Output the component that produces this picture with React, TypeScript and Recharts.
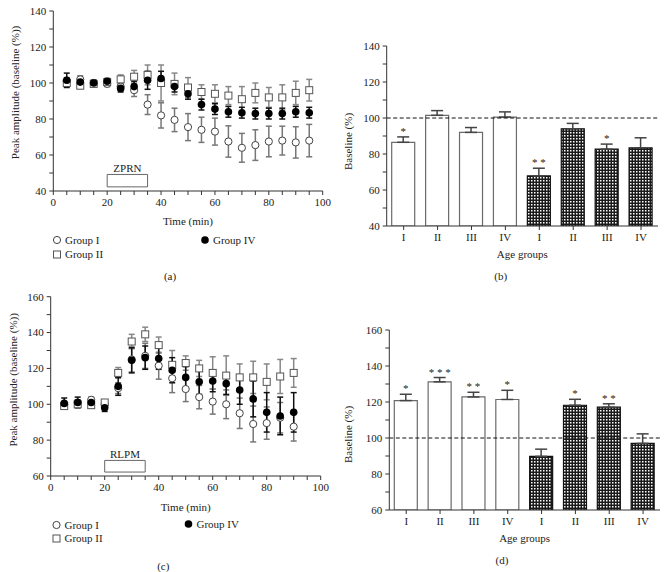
import React from "react";
import {
  Bar,
  BarChart,
  Cell,
  ErrorBar,
  LabelList,
  ReferenceArea,
  ReferenceLine,
  Scatter,
  ScatterChart,
  XAxis,
  YAxis,
} from "recharts";

const FONT = '"Liberation Serif", "Times New Roman", serif';
const INK = "#222";
const AXIS = "#333";

// ---- (a) ZPRN time course ----
const timesA = [5, 10, 15, 20, 25, 30, 35, 40, 45, 50, 55, 60, 65, 70, 75, 80, 85, 90, 95];
const groupIA = [101, 102, 100, 99.5, 98, 96, 88, 82, 79.5, 75.5, 74, 73, 67.5, 64, 65.5, 67.5, 68, 67, 68];
const groupIErrA = [2, 2, 1.5, 1.5, 2, 3.5, 5.5, 7, 6.5, 7.5, 7, 7.5, 8.7, 8, 8.5, 8.5, 8, 8.7, 9];
const groupIIA = [100, 98.5, 99.5, 100.5, 102, 103.5, 104.5, 100, 99.5, 97.5, 95, 94, 93, 91, 94.5, 92, 92, 94.5, 96];
const groupIIErrA = [1.5, 1.5, 1.5, 1.5, 2.5, 3.5, 5.5, 10, 6, 5.5, 4, 5, 5, 7, 5.5, 5.5, 7, 6.5, 6];
const groupIVA = [101.5, 100.5, 100, 101, 97, 98, 101.5, 102.5, 98, 94, 88, 85.5, 84, 83.5, 83, 83, 83, 84, 83.5];
const groupIVErrA = [4, 2, 1.5, 1.5, 2, 3, 5, 4, 3, 3, 3, 3, 3, 3, 3, 3, 3, 3, 3];

// ---- (c) RLPM time course ----
const timesC = [5, 10, 15, 20, 25, 30, 35, 40, 45, 50, 55, 60, 65, 70, 75, 80, 85, 90];
const groupIC = [100, 101, 102.5, 100, 109, 125, 127, 121.5, 114.5, 108.5, 104, 101.5, 100, 95, 89, 89.5, 92.5, 87.5];
const groupIErrC = [1.5, 1.5, 1.5, 1.5, 3, 7, 7, 7.5, 8, 7, 6.5, 7, 8, 8.5, 10, 9, 8.5, 8];
const groupIIC = [99, 100, 99.5, 101, 117.5, 135, 139, 133, 122, 123, 120, 117.5, 116, 115, 115, 112.5, 115.5, 117.5];
const groupIIErrC = [1.5, 1.5, 1.5, 1.5, 3, 4, 4, 4.5, 8, 4, 4.5, 9, 11, 7.5, 9, 10, 9.5, 8];
const groupIVC = [100.5, 101, 101, 98, 110, 124.5, 126, 125.5, 119, 115, 112.5, 113, 111.5, 108, 103, 95.5, 93.5, 95.5];
const groupIVErrC = [3, 3, 2, 2, 5, 7, 6.5, 6, 7, 6, 7, 6, 6, 8, 10, 11, 10.5, 11];

// ---- (b), (d) bar summaries ----
const ageGroups = ["I", "II", "III", "IV"];
const openBarsB = [86.5, 101.5, 92, 100.5];
const openErrB = [3, 2.6, 2.7, 2.9];
const hatchBarsB = [67.8, 94, 82.7, 83.4];
const hatchErrB = [4.3, 3, 2.8, 5.6];
const starsB = ["*", "", "", "", "**", "", "*", ""];

const openBarsD = [120.8, 131.2, 122.8, 121.4];
const openErrD = [3.5, 2.4, 2.6, 5.1];
const hatchBarsD = [89.8, 118.2, 117.1, 97];
const hatchErrD = [4, 3.3, 1.9, 5.3];
const starsD = ["*", "***", "**", "*", "", "*", "**", ""];

const minuteTicks = [0, 5, 10, 15, 20, 25, 30, 35, 40, 45, 50, 55, 60, 65, 70, 75, 80, 85, 90, 95, 100];
const ticks40 = [40, 50, 60, 70, 80, 90, 100, 110, 120, 130, 140];
const ticks60 = [60, 70, 80, 90, 100, 110, 120, 130, 140, 150, 160];

const every20 = (v: number) => (v % 20 === 0 ? String(v) : "");
const tickStyle = { fontSize: 11, fill: INK };

type Pt = { t: number; v: number; e: number };
const toPoints = (times: number[], v: number[], e: number[]): Pt[] =>
  times.map((t, i) => ({ t, v: v[i], e: e[i] }));

const openCircle = (p: any) => (
  <circle cx={p.cx} cy={p.cy} r={3.6} fill="#fff" stroke="#444" strokeWidth={1} />
);
const openSquare = (p: any) => (
  <rect x={p.cx - 3.5} y={p.cy - 3.5} width={7} height={7} fill="#fff" stroke="#555" strokeWidth={1} />
);
const filledCircle = (p: any) => <circle cx={p.cx} cy={p.cy} r={3.8} fill="#000" />;

// rotated y-axis title, placed relative to the axis box
const yTitle = (text: string, dx: number, dy: number) => (props: any) => {
  const vb = props.viewBox;
  const cx = vb.x + dx;
  const cy = vb.y + vb.height / 2 + dy;
  return (
    <text
      x={cx}
      y={cy}
      transform={`rotate(-90 ${cx} ${cy})`}
      textAnchor="middle"
      dominantBaseline="central"
      fontSize={11}
      fill={INK}
    >
      {text}
    </text>
  );
};

type TimeProps = {
  times: number[];
  g1: number[];
  g1e: number[];
  g2: number[];
  g2e: number[];
  g4: number[];
  g4e: number[];
  domain: [number, number];
  ticks: number[];
  drug: string;
  box: [number, number];
  height: number;
  top: number;
  right: number;
  axisWidth: number;
  titleX: number;
  titleDy: number;
  xTitleOffset: number;
};

function TimeCourse(p: TimeProps) {
  return (
    <ScatterChart width={334} height={p.height} margin={{ top: p.top, right: p.right, bottom: 0, left: 0 }}>
      <XAxis
        type="number"
        dataKey="t"
        domain={[0, 100]}
        ticks={minuteTicks}
        interval={0}
        tickFormatter={every20}
        tickSize={4}
        tickMargin={3}
        stroke={AXIS}
        tick={tickStyle}
        height={40}
        label={{ value: "Time (min)", position: "insideBottom", offset: p.xTitleOffset, fontSize: 11, fill: INK }}
      />
      <YAxis
        type="number"
        dataKey="v"
        domain={p.domain}
        ticks={p.ticks}
        interval={0}
        tickFormatter={every20}
        tickSize={4}
        tickMargin={3}
        stroke={AXIS}
        tick={tickStyle}
        width={p.axisWidth}
        label={yTitle("Peak amplitude (baseline (%))", p.titleX, p.titleDy)}
      />
      <ReferenceArea
        x1={20}
        x2={35}
        y1={p.box[0]}
        y2={p.box[1]}
        fill="#fff"
        fillOpacity={1}
        stroke="#666"
        label={{ value: p.drug, position: "top", offset: 2, fontSize: 11, fill: INK }}
      />
      <Scatter data={toPoints(p.times, p.g1, p.g1e)} shape={openCircle} isAnimationActive={false}>
        <ErrorBar dataKey="e" direction="y" width={3} stroke="#777" />
      </Scatter>
      <Scatter data={toPoints(p.times, p.g2, p.g2e)} shape={openSquare} isAnimationActive={false}>
        <ErrorBar dataKey="e" direction="y" width={3} stroke="#888" />
      </Scatter>
      <Scatter data={toPoints(p.times, p.g4, p.g4e)} shape={filledCircle} isAnimationActive={false}>
        <ErrorBar dataKey="e" direction="y" width={3} stroke="#111" />
      </Scatter>
    </ScatterChart>
  );
}

type BarProps = {
  patternId: string;
  open: number[];
  openErr: number[];
  hatch: number[];
  hatchErr: number[];
  stars: string[];
  domain: [number, number];
  ticks: number[];
  height: number;
  top: number;
  right: number;
  axisWidth: number;
  titleDy: number;
  xTitleOffset: number;
};

function AgeBars(p: BarProps) {
  const vals = [...p.open, ...p.hatch];
  const errs = [...p.openErr, ...p.hatchErr];
  const names = [...ageGroups, ...ageGroups];
  const rows = vals.map((v, i) => ({ id: i, v, e: [0, errs[i]] }));
  const yMin = p.domain[0];

  const star = (lp: any) => {
    const i = lp.index;
    const s = p.stars[i];
    if (!s) return null;
    const unit = lp.height / (vals[i] - yMin);
    const capY = lp.y - errs[i] * unit;
    return (
      <text x={lp.x + lp.width / 2} y={capY - 2} textAnchor="middle" fontSize={11} fill={INK}>
        {s.split("").join(" ")}
      </text>
    );
  };

  return (
    <BarChart width={339} height={p.height} data={rows} margin={{ top: p.top, right: p.right, bottom: 0, left: 0 }}>
      <defs>
        <pattern id={p.patternId} width={3} height={3} patternUnits="userSpaceOnUse">
          <rect width={3} height={3} fill="#1a1a1a" />
          <rect width={1.5} height={1.5} fill="#fff" />
        </pattern>
      </defs>
      <XAxis
        dataKey="id"
        type="category"
        tickFormatter={(v: number) => names[v]}
        interval={0}
        tickSize={4}
        tickMargin={3}
        stroke={AXIS}
        tick={tickStyle}
        height={34}
        label={{ value: "Age groups", position: "insideBottom", offset: p.xTitleOffset, fontSize: 11, fill: INK }}
      />
      <YAxis
        type="number"
        domain={p.domain}
        ticks={p.ticks}
        interval={0}
        tickFormatter={every20}
        tickSize={4}
        tickMargin={3}
        stroke={AXIS}
        tick={tickStyle}
        width={p.axisWidth}
        allowDataOverflow
        label={yTitle("Baseline (%)", 18, p.titleDy)}
      />
      <Bar dataKey="v" barSize={23} isAnimationActive={false}>
        {rows.map((r) => (
          <Cell
            key={r.id}
            fill={r.id < 4 ? "#fff" : `url(#${p.patternId})`}
            stroke={r.id < 4 ? "#6b6b6b" : "#111"}
            strokeWidth={1.2}
          />
        ))}
        <ErrorBar dataKey="e" direction="y" width={6} stroke="#444" />
        <LabelList dataKey="v" content={star} />
      </Bar>
      <ReferenceLine y={100} stroke="#111" strokeDasharray="4 2.5" />
    </BarChart>
  );
}

function LegendKey({ x, y, kind, text }: { x: number; y: number; kind: string; text: string }) {
  return (
    <g>
      {kind === "open" && <circle cx={x} cy={y} r={3.6} fill="#fff" stroke="#444" />}
      {kind === "square" && <rect x={x - 3.5} y={y - 3.5} width={7} height={7} fill="#fff" stroke="#555" />}
      {kind === "filled" && <circle cx={x} cy={y} r={3.8} fill="#000" />}
      <text x={x + 8} y={y + 3.7} fontSize={11} fill={INK}>
        {text}
      </text>
    </g>
  );
}

export default function App() {
  return (
    <div
      style={{
        position: "absolute",
        left: 0,
        top: 0,
        width: 669,
        height: 572,
        background: "#fff",
        fontFamily: FONT,
        overflow: "hidden",
      }}
    >
      <div style={{ position: "absolute", left: 0, top: 0 }}>
        <TimeCourse
          times={timesA}
          g1={groupIA}
          g1e={groupIErrA}
          g2={groupIIA}
          g2e={groupIIErrA}
          g4={groupIVA}
          g4e={groupIVErrA}
          domain={[40, 140]}
          ticks={ticks40}
          drug="ZPRN"
          box={[42.3, 49.2]}
          height={231}
          top={11}
          right={11.3}
          axisWidth={53.3}
          titleX={15}
          titleDy={-8.5}
          xTitleOffset={6.5}
        />
      </div>
      <div style={{ position: "absolute", left: 330, top: 0 }}>
        <AgeBars
          patternId="checkB"
          open={openBarsB}
          openErr={openErrB}
          hatch={hatchBarsB}
          hatchErr={hatchErrB}
          stars={starsB}
          domain={[40, 140]}
          ticks={ticks40}
          height={260}
          top={46}
          right={11}
          axisWidth={56.7}
          titleDy={5.5}
          xTitleOffset={2}
        />
      </div>
      <div style={{ position: "absolute", left: 0, top: 290 }}>
        <TimeCourse
          times={timesC}
          g1={groupIC}
          g1e={groupIErrC}
          g2={groupIIC}
          g2e={groupIIErrC}
          g4={groupIVC}
          g4e={groupIVErrC}
          domain={[60, 160]}
          ticks={ticks60}
          drug="RLPM"
          box={[62.2, 68.7]}
          height={226}
          top={6.7}
          right={13.3}
          axisWidth={50.7}
          titleX={13.3}
          titleDy={-6.5}
          xTitleOffset={5.5}
        />
      </div>
      <div style={{ position: "absolute", left: 330, top: 290 }}>
        <AgeBars
          patternId="checkD"
          open={openBarsD}
          openErr={openErrD}
          hatch={hatchBarsD}
          hatchErr={hatchErrD}
          stars={starsD}
          domain={[60, 160]}
          ticks={ticks60}
          height={254}
          top={40}
          right={9}
          axisWidth={59.3}
          titleDy={14.5}
          xTitleOffset={2.3}
        />
      </div>
      <svg
        width={669}
        height={572}
        style={{ position: "absolute", left: 0, top: 0, pointerEvents: "none" }}
      >
        <LegendKey x={57} y={240} kind="open" text="Group I" />
        <LegendKey x={57} y={254.5} kind="square" text="Group II" />
        <LegendKey x={205} y={240} kind="filled" text="Group IV" />
        <LegendKey x={56.5} y={525} kind="open" text="Group I" />
        <LegendKey x={56.5} y={538.5} kind="square" text="Group II" />
        <LegendKey x={188.5} y={524} kind="filled" text="Group IV" />
        <text x={170} y={279.5} fontSize={11} fill={INK} textAnchor="middle">(a)</text>
        <text x={500.7} y={279.5} fontSize={11} fill={INK} textAnchor="middle">(b)</text>
        <text x={163.3} y={569.5} fontSize={11} fill={INK} textAnchor="middle">(c)</text>
        <text x={502} y={564.2} fontSize={11} fill={INK} textAnchor="middle">(d)</text>
      </svg>
    </div>
  );
}
